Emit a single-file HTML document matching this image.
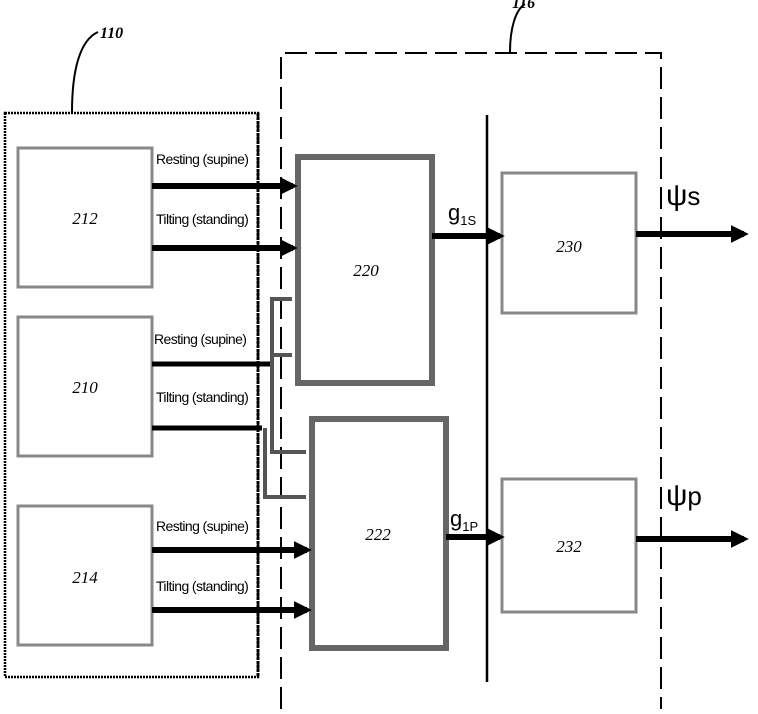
<!DOCTYPE html>
<html><head><style>
body{margin:0;background:#fff;}
.sf{font-family:"Liberation Serif",serif;}
.ss{font-family:"Liberation Sans",sans-serif;}
</style></head><body>
<svg width="758" height="709" viewBox="0 0 758 709" xmlns="http://www.w3.org/2000/svg">
<defs>
<marker id="ah" markerWidth="3" markerHeight="3" refX="2.2" refY="1.5" orient="auto" markerUnits="strokeWidth">
<path d="M0,0 L3,1.5 L0,3 z" fill="#000"/></marker>
<marker id="ah2" markerWidth="4" markerHeight="4" refX="3" refY="2" orient="auto" markerUnits="strokeWidth">
<path d="M0,0 L4,2 L0,4 z" fill="#555"/></marker>
</defs>
<!-- 110 dotted box -->
<rect x="5" y="113" width="253" height="564" fill="none" stroke="#000" stroke-width="2.5" stroke-dasharray="2,1"/>
<line x1="258" y1="113" x2="258" y2="677" stroke="#000" stroke-width="3" stroke-dasharray="3,1"/>
<path d="M72,112 C72,70 80,40 98,32" fill="none" stroke="#000" stroke-width="2"/>
<text class="sf" x="100" y="38" font-size="16" font-style="italic" font-weight="bold">110</text>
<!-- 116 dashed box -->
<path d="M281,709 L281,53 L661,53 L661,709" fill="none" stroke="#000" stroke-width="2" stroke-dasharray="22,8"/>
<path d="M510,52 C510,30 515,10 525,4" fill="none" stroke="#000" stroke-width="2"/>
<text class="sf" x="512" y="8" font-size="16" font-style="italic" font-weight="bold">116</text>
<line x1="487" y1="115" x2="487" y2="682" stroke="#000" stroke-width="2.5"/>
<g fill="#fff" stroke="#888" stroke-width="3">
<rect x="18" y="148" width="134" height="139"/>
<rect x="18" y="317" width="134" height="139"/>
<rect x="18" y="506" width="134" height="139"/>
<rect x="502" y="173" width="134" height="140"/>
<rect x="502" y="479" width="134" height="133"/>
</g>
<g fill="#fff" stroke="#666" stroke-width="6">
<rect x="298" y="157" width="134" height="226"/>
<rect x="312" y="419" width="134" height="229"/>
</g>
<g class="sf" font-size="17" font-style="italic" text-anchor="middle">
<text x="85" y="224">212</text>
<text x="85" y="393">210</text>
<text x="85" y="583">214</text>
<text x="366" y="276">220</text>
<text x="378" y="540">222</text>
<text x="569" y="252">230</text>
<text x="569" y="552">232</text>
</g>
<g class="ss" font-size="14" letter-spacing="-0.6">
<text x="156" y="164">Resting (supine)</text>
<text x="156" y="224">Tilting (standing)</text>
<text x="154" y="344">Resting (supine)</text>
<text x="156" y="402">Tilting (standing)</text>
<text x="156" y="531">Resting (supine)</text>
<text x="156" y="591">Tilting (standing)</text>
</g>
<g stroke="#000" stroke-width="6" fill="none" marker-end="url(#ah)">
<line x1="152" y1="186" x2="293" y2="186"/>
<line x1="152" y1="248" x2="293" y2="248"/>
<line x1="152" y1="550" x2="307" y2="550"/>
<line x1="152" y1="610" x2="307" y2="610"/>
<line x1="432" y1="236" x2="500" y2="236"/>
<line x1="446" y1="537" x2="500" y2="537"/>
<line x1="636" y1="234" x2="744" y2="234"/>
<line x1="636" y1="539" x2="744" y2="539"/>
</g>
<g stroke="#000" stroke-width="5" fill="none">
<line x1="152" y1="364" x2="270" y2="364"/>
<line x1="152" y1="428" x2="262" y2="428"/>
</g>
<g stroke="#555" stroke-width="4" fill="none">
<path d="M272,364 L272,299 L292,299"/>
<path d="M272,364 L272,355 L292,355"/>
<path d="M272,364 L272,452 L306,452"/>
<path d="M265,428 L265,497 L306,497"/>
</g>
<g class="ss">
<text x="448" y="220" font-size="22">g<tspan font-size="13" dy="5">1S</tspan></text>
<text x="450" y="526" font-size="22">g<tspan font-size="13" dy="5">1P</tspan></text>
<text x="666" y="205" font-size="30">ψ<tspan font-size="26">s</tspan></text>
<text x="666" y="505" font-size="30">ψ<tspan font-size="26">p</tspan></text>
</g>
</svg>
</body></html>
